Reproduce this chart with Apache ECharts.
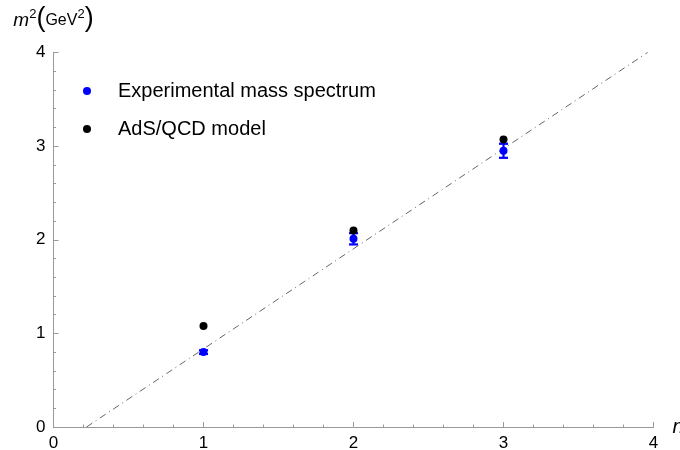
<!DOCTYPE html>
<html>
<head>
<meta charset="utf-8">
<script src="https://cdn.jsdelivr.net/npm/echarts@6/dist/echarts.min.js"></script>
<style>html,body{margin:0;padding:0;background:#fff;}#c{width:680px;height:450px;}</style>
</head>
<body>
<div id="c"></div>
<script>
const nValues = [1, 2, 3];
const expMass = [0.80, 2.01, 2.95];
const expErr = [0.02, 0.06, 0.075];
const adsMass = [1.078, 2.10, 3.07];
const fitX = [0.22, 3.96];
const fitY = [0, 4.0];
const xTicks = [0, 1, 2, 3, 4];
const yTicks = [0, 1, 2, 3, 4];

const font = 'Liberation Sans, Arial, sans-serif';
const chart = echarts.init(document.getElementById('c'), null, {renderer: 'canvas'});
const axisCommon = {
  type: 'value', min: 0, max: 4, interval: 1,
  axisLine: {show: true, onZero: false, lineStyle: {color: '#999', width: 1}},
  axisTick: {show: true, inside: true, length: 5, lineStyle: {color: '#999'}},
  minorTick: {show: true, splitNumber: 5, length: 2.5, lineStyle: {color: '#999'}},
  splitLine: {show: false},
  axisLabel: {color: '#000', fontSize: 17, fontFamily: font}
};
chart.setOption({
  animation: false,
  backgroundColor: '#fff',
  grid: {left: 53.5, right: 26.5, top: 52.5, bottom: 23, containLabel: false, outerBoundsMode: 'none'},
  legend: {
    orient: 'vertical', left: 78, top: 76, itemGap: 18,
    itemWidth: 8, itemHeight: 8,
    data: [{name: 'Experimental mass spectrum', icon: 'circle'}, {name: 'AdS/QCD model', icon: 'circle'}],
    textStyle: {fontSize: 20, color: '#000', fontFamily: font, padding: [0, 0, 0, 22]}
  },
  xAxis: Object.assign({}, axisCommon, {
    name: 'n', nameLocation: 'end', nameGap: 19,
    nameTextStyle: {fontSize: 20, fontStyle: 'italic', color: '#000', fontFamily: font},
    axisLabel: Object.assign({}, axisCommon.axisLabel, {margin: 8, formatter: v => xTicks.includes(v) ? String(v) : ''})
  }),
  yAxis: Object.assign({}, axisCommon, {
    name: '{m|m}{s|2}{p|(}{g|GeV}{s|2}{p|)}', nameLocation: 'end', nameGap: 18,
    nameTextStyle: {
      color: '#000', fontFamily: font, align: 'center',
      rich: {
        m: {fontSize: 19, fontStyle: 'italic', fontFamily: font, color: '#000', padding: [2, 0, 0, 0]},
        s: {fontSize: 13, fontFamily: font, color: '#000', padding: [0, 0, 11, 0]},
        p: {fontSize: 27, fontFamily: font, color: '#000', padding: [0, 0, 2, 0]},
        g: {fontSize: 16, fontFamily: font, color: '#000', padding: [2, 0, 0, 0]}
      }
    },
    axisLabel: Object.assign({}, axisCommon.axisLabel, {margin: 8, formatter: v => yTicks.includes(v) ? String(v) : ''})
  }),
  series: [
    {
      name: 'fit', type: 'line', silent: true, symbol: 'none',
      data: fitX.map((x, i) => [x, fitY[i]]),
      lineStyle: {color: '#666', width: 1, type: [7, 4, 1, 4]}
    },
    {
      name: 'errors', type: 'custom', silent: true,
      data: nValues.map((n, i) => [n, expMass[i], expErr[i]]),
      renderItem: function (params, api) {
        const x = api.value(0), y = api.value(1), e = api.value(2);
        const t = api.coord([x, y + e]);
        const b = api.coord([x, y - e]);
        const st = {stroke: '#0000ff', lineWidth: 2.2, fill: null};
        return {type: 'group', children: [
          {type: 'line', shape: {x1: t[0], y1: t[1], x2: b[0], y2: b[1]}, style: st},
          {type: 'line', shape: {x1: t[0] - 4.5, y1: t[1], x2: t[0] + 4.5, y2: t[1]}, style: st},
          {type: 'line', shape: {x1: b[0] - 4.5, y1: b[1], x2: b[0] + 4.5, y2: b[1]}, style: st}
        ]};
      },
      z: 3
    },
    {
      name: 'Experimental mass spectrum', type: 'scatter', symbol: 'circle', symbolSize: 8,
      itemStyle: {color: '#0000ff', opacity: 1},
      data: nValues.map((n, i) => [n, expMass[i]]), z: 4
    },
    {
      name: 'AdS/QCD model', type: 'scatter', symbol: 'circle', symbolSize: 8,
      itemStyle: {color: '#000', opacity: 1},
      data: nValues.map((n, i) => [n, adsMass[i]]), z: 4
    }
  ]
});
</script>
</body>
</html>
